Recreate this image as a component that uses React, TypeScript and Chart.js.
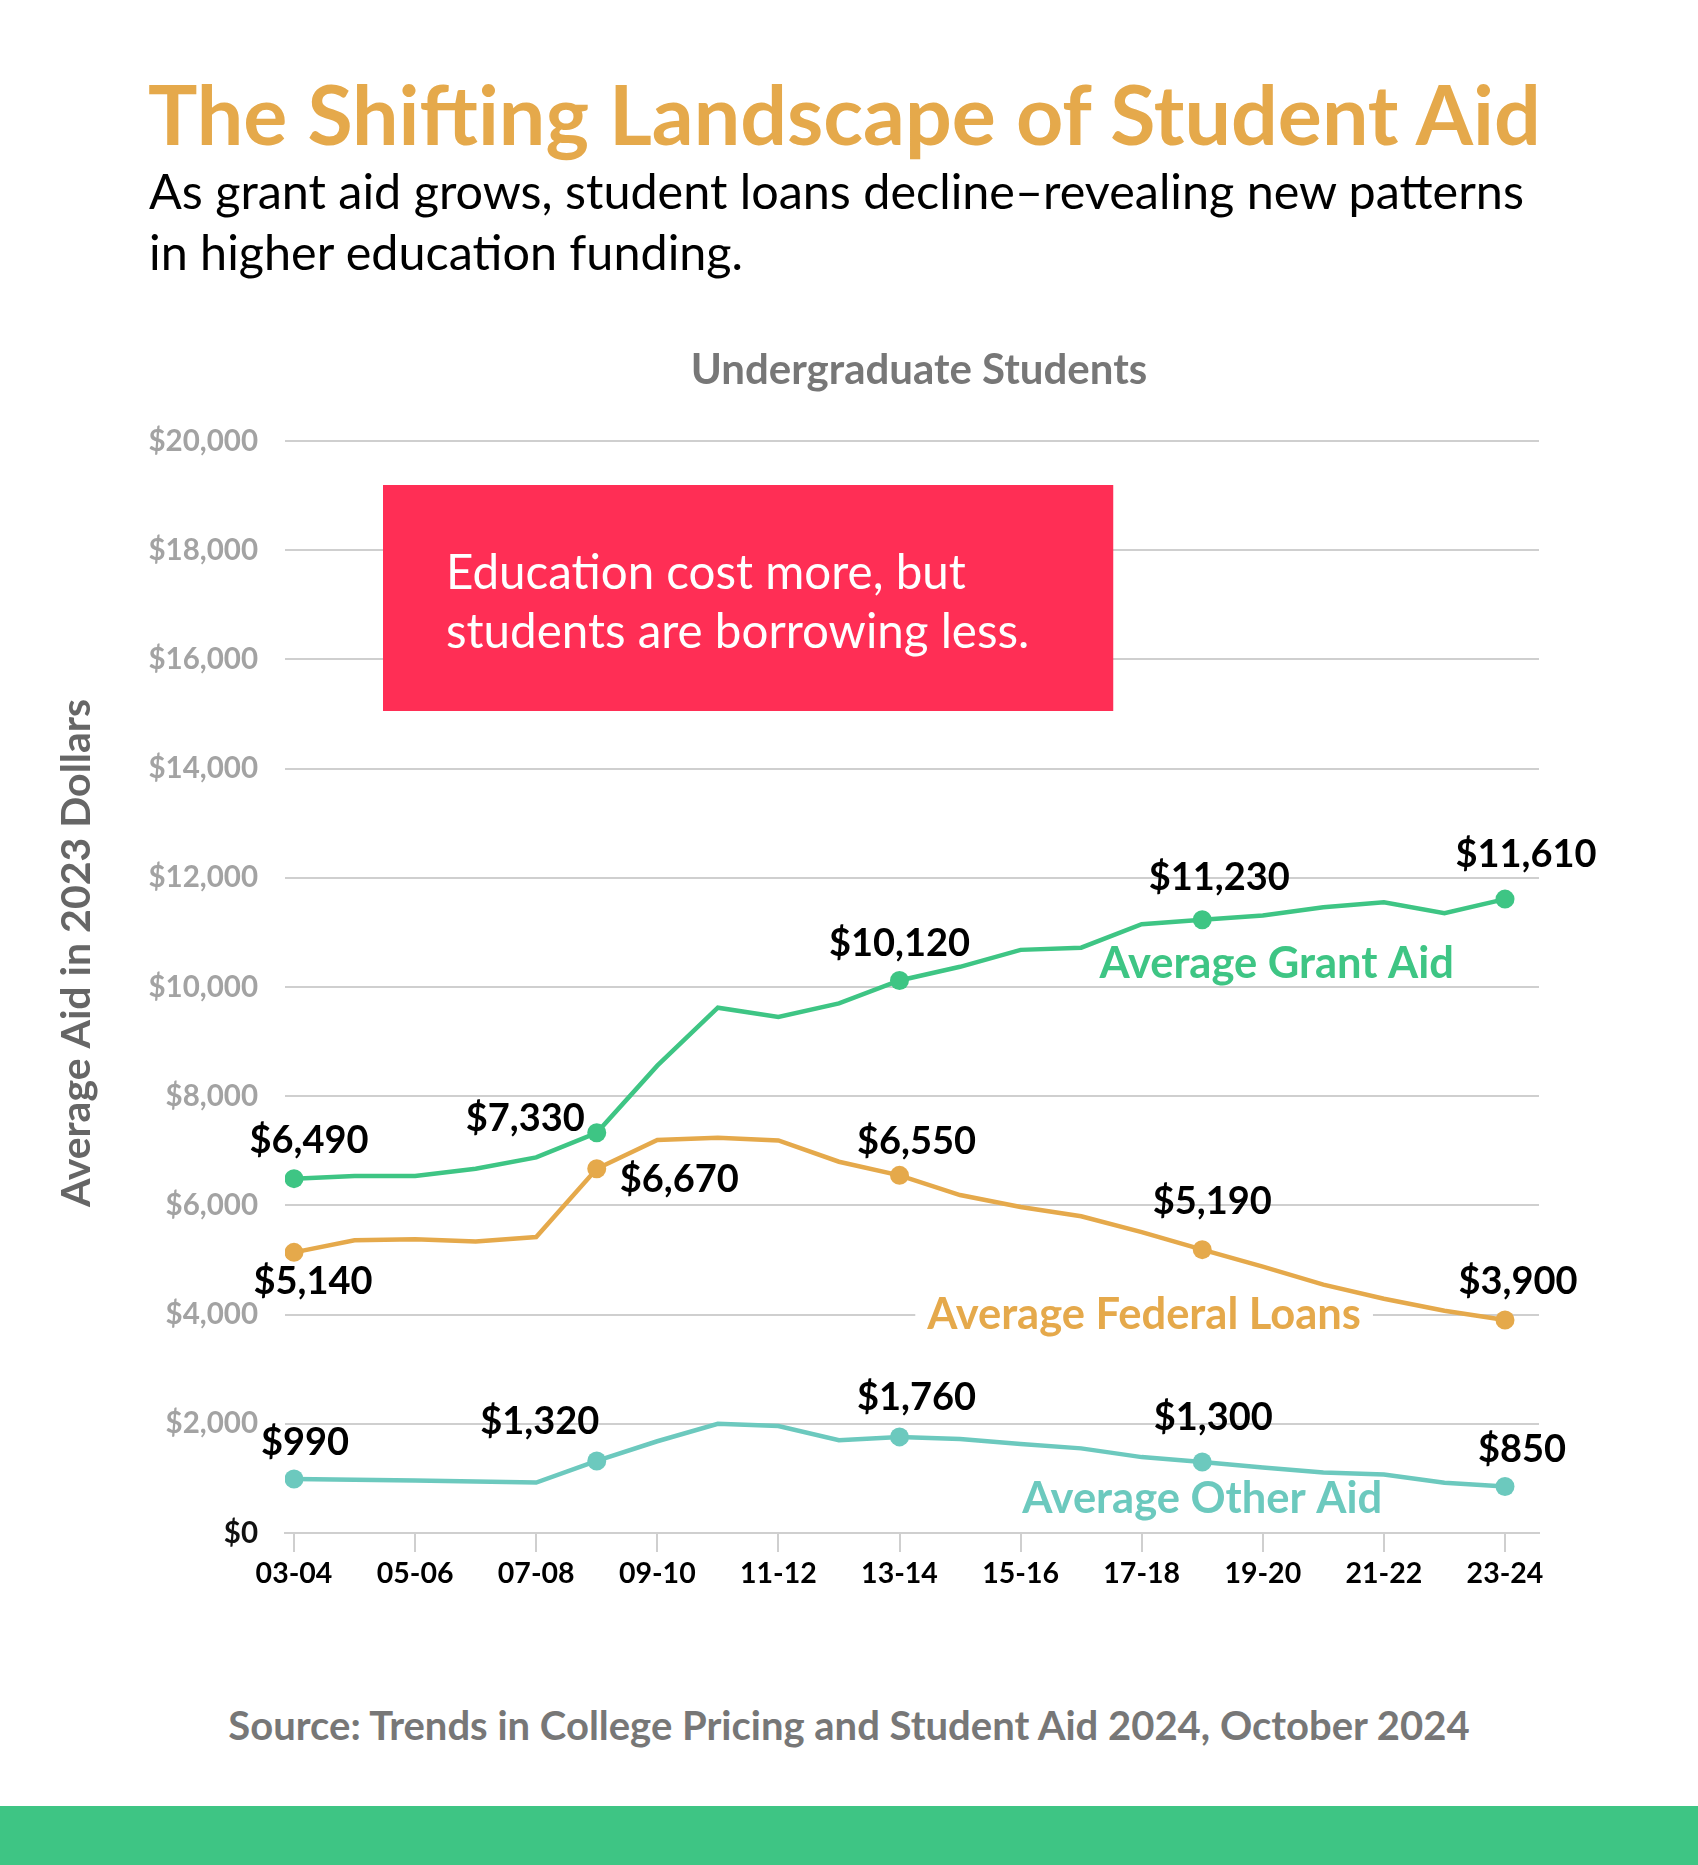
import React, { useEffect, useRef } from 'react';
import { Chart, registerables } from 'chart.js';

Chart.register(...registerables);

// ---------- data ----------
const years = [
  '03-04', '04-05', '05-06', '06-07', '07-08', '08-09', '09-10', '10-11', '11-12', '12-13',
  '13-14', '14-15', '15-16', '16-17', '17-18', '18-19', '19-20', '20-21', '21-22', '22-23', '23-24',
];
const grantAid = [6490, 6540, 6540, 6670, 6880, 7330, 8560, 9620, 9450, 9700, 10120, 10370, 10680, 10720, 11150, 11230, 11310, 11460, 11550, 11350, 11610];
const federalLoans = [5140, 5360, 5380, 5340, 5420, 6670, 7200, 7240, 7190, 6800, 6550, 6190, 5970, 5800, 5510, 5190, 4880, 4550, 4290, 4070, 3900];
const otherAid = [990, 975, 960, 945, 925, 1320, 1680, 2000, 1960, 1700, 1760, 1720, 1630, 1550, 1390, 1300, 1200, 1110, 1070, 920, 850];
const markerIndices = [0, 5, 10, 15, 20];
const labelledYearIndices = [0, 2, 4, 6, 8, 10, 12, 14, 16, 18, 20];
const yTickValues = [0, 2000, 4000, 6000, 8000, 10000, 12000, 14000, 16000, 18000, 20000];

const seriesNames = ['Average Grant Aid', 'Average Federal Loans', 'Average Other Aid'];

// ---------- styles ----------
const FONT = 'Lato, "Noto Sans", sans-serif';
const GREEN = '#3EC584';
const ORANGE = '#E5A94B';
const TEAL = '#6CC9BE';
const RED = '#FF2E55';
const GRID = '#CFCFCF';

// label offsets (px) relative to each marker: [dx, dy, align]
type Off = [number, number, CanvasTextAlign];
const grantOffsets: Off[] = [[15, -38, 'center'], [-12, -14, 'right'], [0, -37, 'center'], [17, -42, 'center'], [21, -44, 'center']];
const loanOffsets: Off[] = [[19, 29, 'center'], [23, 11, 'left'], [17, -34, 'center'], [10, -48, 'center'], [13, -38, 'center']];
const otherOffsets: Off[] = [[11, -36, 'center'], [-57, -39, 'center'], [17, -39, 'center'], [11, -44, 'center'], [17, -37, 'center']];

// series name label anchors in data space: [index, value]
const seriesLabelAnchors: [number, number][] = [[16.23, 10420], [14.04, 4000], [15.0, 620]];

const CANVAS_W = 1698;
const CANVAS_H = 1620;
const AREA_LEFT = 285;
const AREA_TOP = 441;
const AREA_RIGHT = 1539;
const AREA_BOTTOM = 1533;

const fmt = (v: number) => '$' + v.toLocaleString('en-US');

const overlayPlugin = {
  id: 'overlay',
  beforeDatasetsDraw(chart: any) {
    const { ctx, scales } = chart;
    const x = scales.x;
    const y = scales.y;
    ctx.save();
    // callout box
    const bx1 = x.getPixelForValue(1.47);
    const bx2 = x.getPixelForValue(13.53);
    const by1 = y.getPixelForValue(19194);
    const by2 = y.getPixelForValue(15055);
    ctx.fillStyle = RED;
    ctx.fillRect(bx1, by1, bx2 - bx1, by2 - by1);
    ctx.fillStyle = '#FFFFFF';
    ctx.font = `400 47.5px ${FONT}`;
    ctx.textAlign = 'left';
    ctx.textBaseline = 'middle';
    ctx.fillText('Education cost more, but', bx1 + 63, by1 + 89);
    ctx.fillText('students are borrowing less.', bx1 + 63, by1 + 148);

    // white background behind loans label (covers gridline)
    ctx.font = `700 43.5px ${FONT}`;
    const [li, lv] = seriesLabelAnchors[1];
    const lw = ctx.measureText(seriesNames[1]).width;
    const lx = x.getPixelForValue(li);
    const ly = y.getPixelForValue(lv);
    ctx.fillStyle = '#FFFFFF';
    ctx.fillRect(lx - lw / 2 - 12, ly - 6, lw + 24, 12);
    ctx.restore();
  },
  afterDatasetsDraw(chart: any) {
    const { ctx, scales } = chart;
    const x = scales.x;
    const y = scales.y;
    ctx.save();
    // series names
    const colors = [GREEN, ORANGE, TEAL];
    ctx.font = `700 43.5px ${FONT}`;
    ctx.textAlign = 'center';
    ctx.textBaseline = 'middle';
    seriesNames.forEach((name, i) => {
      const [ai, av] = seriesLabelAnchors[i];
      ctx.fillStyle = colors[i];
      ctx.fillText(name, x.getPixelForValue(ai), y.getPixelForValue(av));
    });
    // value labels
    const all: [number[], Off[]][] = [[grantAid, grantOffsets], [federalLoans, loanOffsets], [otherAid, otherOffsets]];
    ctx.font = `700 38px ${FONT}`;
    ctx.fillStyle = '#000000';
    all.forEach(([vals, offs]) => {
      markerIndices.forEach((idx, k) => {
        const [dx, dy, al] = offs[k];
        ctx.textAlign = al;
        ctx.fillText(fmt(vals[idx]), x.getPixelForValue(idx) + dx, y.getPixelForValue(vals[idx]) + dy);
      });
    });
    // y axis title
    ctx.translate(77, 953);
    ctx.rotate(-Math.PI / 2);
    ctx.font = `700 41px ${FONT}`;
    ctx.fillStyle = '#666666';
    ctx.textAlign = 'center';
    ctx.textBaseline = 'middle';
    ctx.fillText('Average Aid in 2023 Dollars', 0, 0);
    ctx.restore();
  },
};

function makeDataset(label: string, values: number[], color: string) {
  return {
    label,
    data: values.map((v, i) => ({ x: i, y: v })),
    borderColor: color,
    backgroundColor: color,
    borderWidth: 4.5,
    pointRadius: values.map((_, i) => (markerIndices.includes(i) ? 9.5 : 0)),
    pointHoverRadius: 0,
    pointBorderWidth: 0,
    tension: 0,
  };
}

function LineChart() {
  const ref = useRef<HTMLCanvasElement | null>(null);
  useEffect(() => {
    if (!ref.current) return;
    const pxPerIdx = (1505 - 294) / 20;
    const chart = new Chart(ref.current, {
      type: 'line',
      data: {
        datasets: [
          makeDataset(seriesNames[2], otherAid, TEAL),
          makeDataset(seriesNames[1], federalLoans, ORANGE),
          makeDataset(seriesNames[0], grantAid, GREEN),
        ],
      },
      options: {
        animation: false,
        responsive: false,
        devicePixelRatio: 1,
        events: [],
        layout: { padding: { top: AREA_TOP, right: CANVAS_W - AREA_RIGHT, left: 0, bottom: 0 } },
        plugins: { legend: { display: false }, tooltip: { enabled: false }, title: { display: false } },
        scales: {
          x: {
            type: 'linear',
            min: -(294 - AREA_LEFT) / pxPerIdx,
            max: 20 + (AREA_RIGHT - 1505) / pxPerIdx,
            afterBuildTicks: (scale: any) => {
              scale.ticks = labelledYearIndices.map((v) => ({ value: v }));
            },
            afterFit: (scale: any) => {
              scale.height = CANVAS_H - AREA_BOTTOM;
            },
            grid: {
              display: true,
              drawOnChartArea: false,
              drawTicks: true,
              tickLength: 19,
              color: GRID,
              lineWidth: 2,
            },
            border: { display: true, color: GRID, width: 2 },
            ticks: {
              autoSkip: false,
              maxRotation: 0,
              padding: 5,
              color: '#000000',
              font: { family: FONT, size: 28.5, weight: 'bold' },
              callback: (v: any) => years[Math.round(Number(v))] ?? '',
            },
          },
          y: {
            min: 0,
            max: 20000,
            afterBuildTicks: (scale: any) => {
              scale.ticks = yTickValues.map((v) => ({ value: v }));
            },
            afterFit: (scale: any) => {
              scale.width = AREA_LEFT;
            },
            grid: { color: GRID, lineWidth: 2, drawTicks: false },
            border: { display: false },
            ticks: {
              padding: 27,
              color: (c: any) => (c.tick && c.tick.value === 0 ? '#111111' : '#A3A3A3'),
              font: { family: FONT, size: 29.5, weight: 'bold' },
              callback: (v: any) => fmt(Number(v)),
            },
          },
        },
      },
      plugins: [overlayPlugin],
    } as any);
    return () => chart.destroy();
  }, []);
  return (
    <canvas
      ref={ref}
      width={CANVAS_W}
      height={CANVAS_H}
      style={{ position: 'absolute', left: 0, top: 0, width: CANVAS_W, height: CANVAS_H }}
    />
  );
}

export default function App() {
  useEffect(() => {
    document.body.style.margin = '0';
    document.body.style.background = '#ffffff';
  }, []);
  const base: React.CSSProperties = { position: 'absolute', fontFamily: FONT, margin: 0, whiteSpace: 'nowrap' };
  return (
    <div style={{ position: 'absolute', left: 0, top: 0, width: 1698, height: 1865, background: '#fff', overflow: 'hidden' }}>
      <LineChart />
      <div style={{ ...base, left: 148, top: 73, fontSize: 82.5, lineHeight: '82px', fontWeight: 700, color: ORANGE }}>
        The Shifting Landscape of Student Aid
      </div>
      <div style={{ ...base, left: 149, top: 160, fontSize: 48.5, lineHeight: '61px', fontWeight: 400, color: '#000' }}>
        As grant aid grows, student loans decline–revealing new patterns
        <br />
        in higher education funding.
      </div>
      <div style={{ ...base, left: 0, width: 1838, top: 347, textAlign: 'center', fontSize: 42, lineHeight: '42px', fontWeight: 700, color: '#777' }}>
        Undergraduate Students
      </div>
      <div style={{ ...base, left: 0, width: 1698, top: 1705, textAlign: 'center', fontSize: 40, lineHeight: '40px', fontWeight: 700, color: '#777' }}>
        Source: Trends in College Pricing and Student Aid 2024, October 2024
      </div>
      <div style={{ position: 'absolute', left: 0, top: 1806, width: 1698, height: 59, background: GREEN }} />
    </div>
  );
}
